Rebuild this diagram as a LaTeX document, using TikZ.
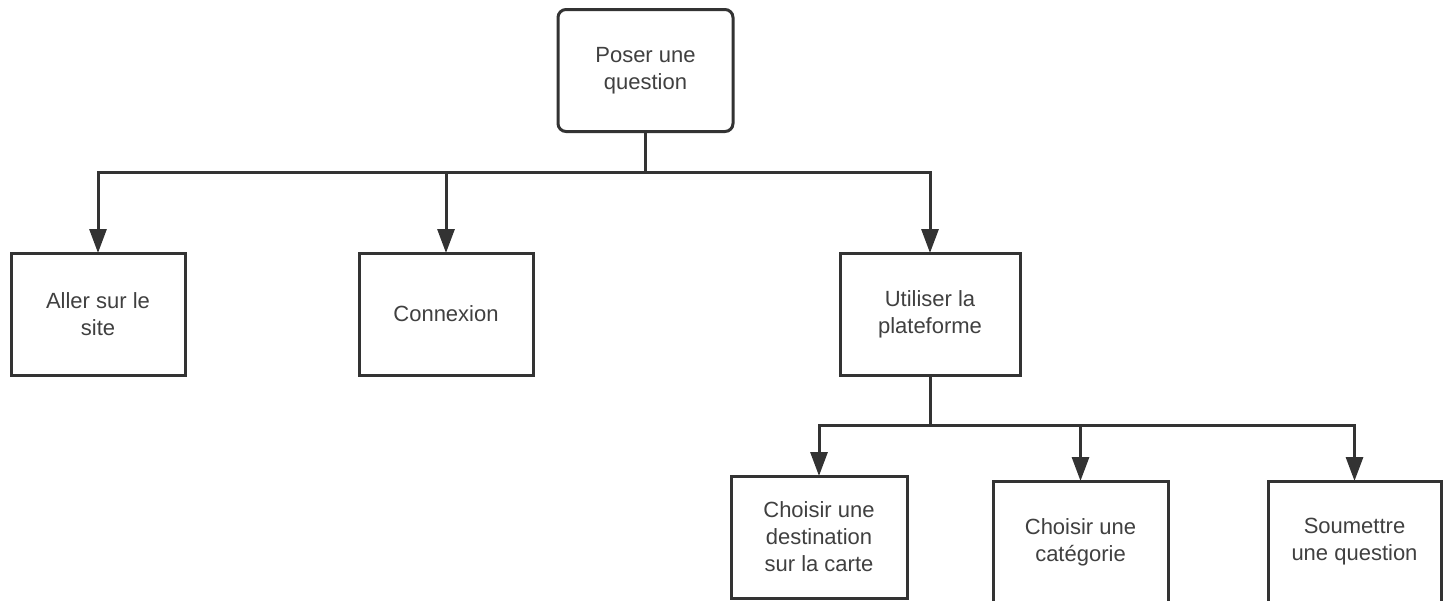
\documentclass[tikz,border=0pt]{standalone}
\usepackage{fontspec}
\setmainfont{Liberation Sans}
\usetikzlibrary{arrows.meta}
\definecolor{inkgray}{HTML}{333333}
\definecolor{textgray}{HTML}{404040}
\tikzstyle{task}=[rectangle,draw=inkgray,line width=1.5pt,fill=white,inner sep=0pt,outer sep=0pt,
    align=center,text=textgray,font=\fontsize{11}{13.5}\selectfont,minimum height=61pt]
\tikzstyle{goal}=[task,rounded corners=4pt]
\tikzstyle{link}=[draw=inkgray,line width=1.5pt,-{Triangle[length=12pt,width=8.5pt]}]

\begin{document}
\begin{tikzpicture}[x=0.5pt,y=-0.5pt]
    \useasboundingbox (0,0) rectangle (1446,600);
    \clip (0,0) rectangle (1446,600);
    \path node[goal,minimum width=87.5pt] (Q) at (645.5,70.5) {Poser une\\question}
        node[task,minimum width=87pt] (S) at (98,314) {Aller sur le\\site}
        node[task,minimum width=87pt] (C) at (446,314) {Connexion}
        node[task,minimum width=90pt] (U) at (930,314) {Utiliser la\\plateforme}
        node[task,minimum width=88pt] (D) at (819,537) {Choisir une\\destination\\sur la carte}
        node[task,minimum width=87.5pt] (K) at (1080.5,542) {Choisir une\\catégorie}
        node[task,minimum width=86.5pt] (M) at (1354.5,542) {Soumettre\\une question}
        ;
    % first level
    \draw[link] (Q.south) -- ++(0,41) -| (S.north);
    \draw[link] (Q.south) -- ++(0,41) -| (C.north);
    \draw[link] (Q.south) -- ++(0,41) -| (U.north);
    % second level
    \draw[link] (U.south) -- ++(0,50) -| (D.north);
    \draw[link] (U.south) -- ++(0,50) -| (K.north);
    \draw[link] (U.south) -- ++(0,50) -| (M.north);
\end{tikzpicture}
\end{document}
